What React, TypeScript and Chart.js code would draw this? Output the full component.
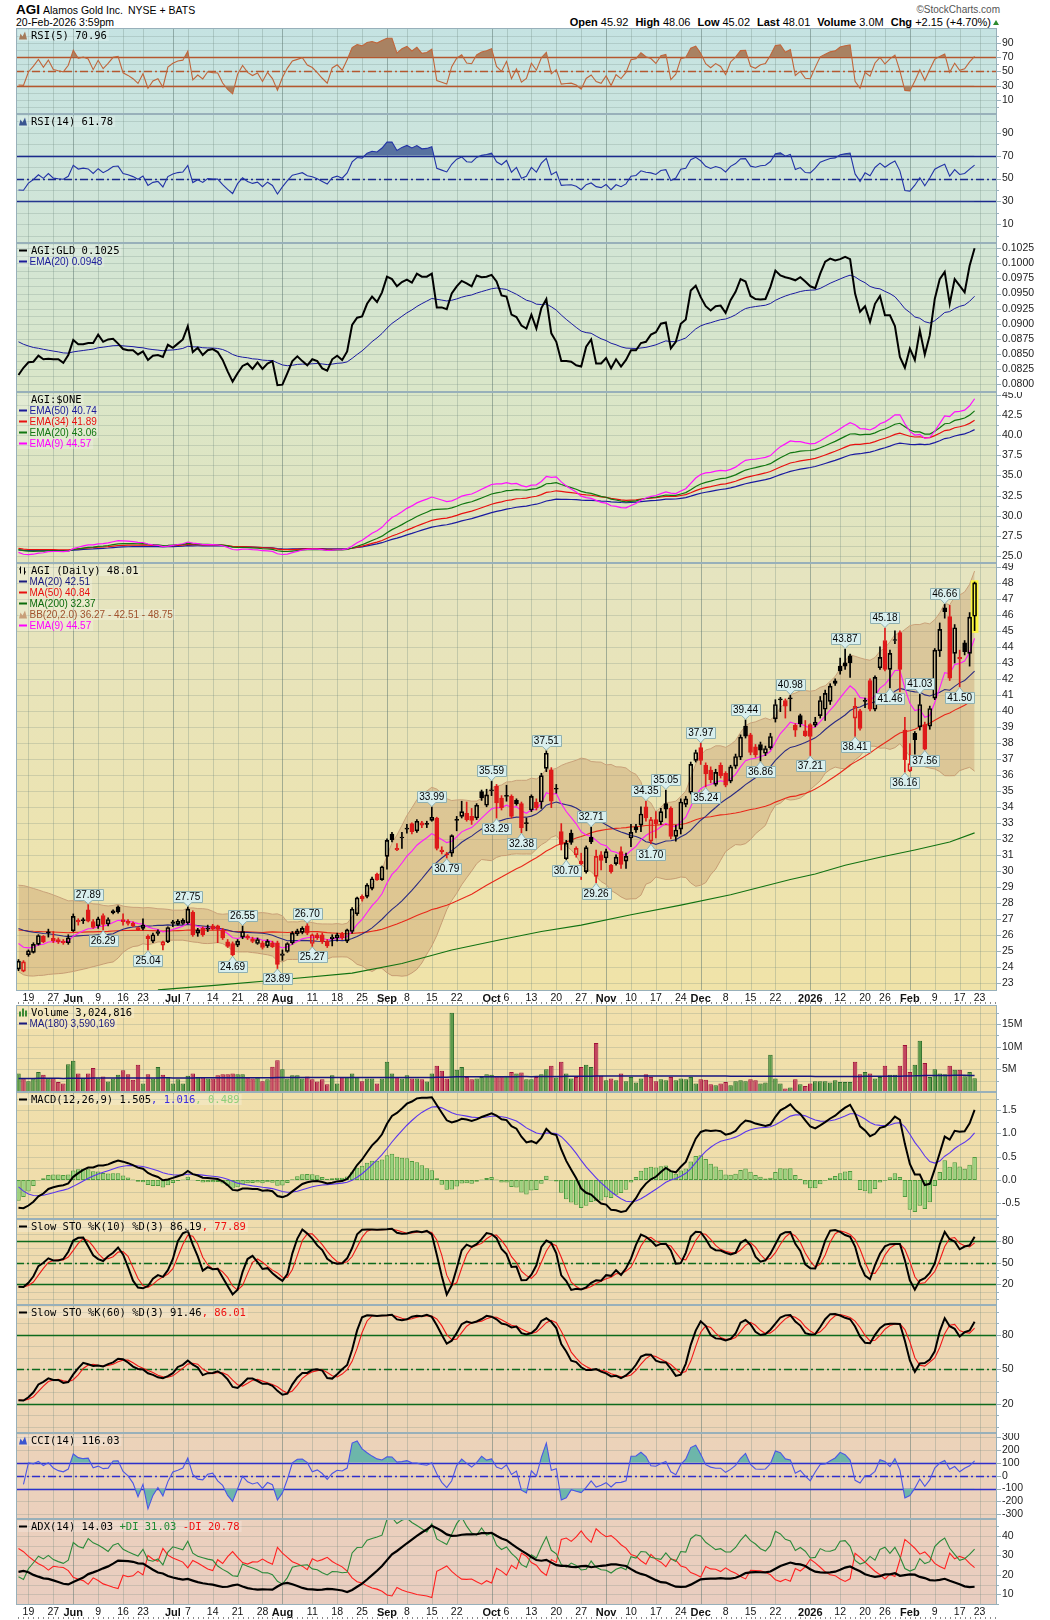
import React, { useEffect, useRef } from 'react';
import { Chart, registerables } from 'chart.js';

Chart.register(...registerables);

// ---------------- calendar ----------------
const FIRST_DAY = '2025-05-15';
const LAST_DAY = '2026-02-20';
const MARKET_HOLIDAYS = ['2025-05-26', '2025-06-19', '2025-07-04', '2025-09-01', '2025-11-27', '2025-12-25', '2026-01-01', '2026-01-19', '2026-02-16'];
const FUTURE_DAYS = ['2026-02-23', '2026-02-24', '2026-02-25', '2026-02-26'];

function tradingDays(from: string, to: string, holidays: string[]): string[] {
  const out: string[] = [];
  const d = new Date(from + 'T12:00:00Z');
  const end = new Date(to + 'T12:00:00Z');
  while (d <= end) {
    const wd = d.getUTCDay();
    const s = d.toISOString().slice(0, 10);
    if (wd !== 0 && wd !== 6 && holidays.indexOf(s) < 0) out.push(s);
    d.setUTCDate(d.getUTCDate() + 1);
  }
  return out;
}
const DAYS = tradingDays(FIRST_DAY, LAST_DAY, MARKET_HOLIDAYS);
const CATS = DAYS.concat(FUTURE_DAYS);
const N = CATS.length;

// [date, text, isMonth]
const AXIS_LABELS: [string, string, boolean][] = [
  ['2025-05-19', '19', false], ['2025-05-27', '27', false], ['2025-06-02', 'Jun', true], ['2025-06-09', '9', false],
  ['2025-06-16', '16', false], ['2025-06-23', '23', false], ['2025-07-01', 'Jul', true], ['2025-07-07', '7', false],
  ['2025-07-14', '14', false], ['2025-07-21', '21', false], ['2025-07-28', '28', false], ['2025-08-01', 'Aug', true],
  ['2025-08-11', '11', false], ['2025-08-18', '18', false], ['2025-08-25', '25', false], ['2025-09-02', 'Sep', true],
  ['2025-09-08', '8', false], ['2025-09-15', '15', false], ['2025-09-22', '22', false], ['2025-10-01', 'Oct', true],
  ['2025-10-06', '6', false], ['2025-10-13', '13', false], ['2025-10-20', '20', false], ['2025-10-27', '27', false],
  ['2025-11-03', 'Nov', true], ['2025-11-10', '10', false], ['2025-11-17', '17', false], ['2025-11-24', '24', false],
  ['2025-12-01', 'Dec', true], ['2025-12-08', '8', false], ['2025-12-15', '15', false], ['2025-12-22', '22', false],
  ['2026-01-02', '2026', true], ['2026-01-12', '12', false], ['2026-01-20', '20', false], ['2026-01-26', '26', false],
  ['2026-02-02', 'Feb', true], ['2026-02-09', '9', false], ['2026-02-17', '17', false], ['2026-02-23', '23', false],
];

// ---------------- daily prices ----------------
const OPEN = [
  23.85, 23.72, 24.75, 24.90, 25.40, 25.90, 26.15, 25.78, 25.70, 25.60,
  25.50, 26.25, 26.90, 26.88, 27.55, 26.82, 26.55, 27.20, 26.67, 27.50,
  27.75, 26.95, 26.85, 26.72, 26.45, 26.40, 25.90, 25.60, 26.20, 25.35,
  25.55, 26.80, 26.65, 26.70, 26.75, 27.40, 26.10, 26.40, 26.35, 26.55,
  26.55, 26.30, 25.55, 25.45, 25.35, 25.85, 25.92, 25.75, 25.45, 25.50,
  25.30, 25.50, 25.50, 24.70, 24.95, 25.50, 26.05, 26.15, 26.55, 25.45,
  26.00, 26.00, 25.60, 25.75, 25.80, 26.05, 25.60, 26.20, 27.30, 28.40,
  28.40, 28.90, 29.80, 29.45, 30.90, 32.30, 31.40, 32.05, 32.60, 32.95,
  32.50, 33.00, 32.90, 33.15, 33.30, 31.30, 31.05, 31.10, 33.15, 33.40,
  33.60, 33.40, 33.30, 34.95, 34.10, 35.00, 35.30, 34.55, 34.65, 34.65,
  34.40, 34.20, 32.95, 33.80, 34.30, 34.30, 36.40, 36.30, 35.15, 32.45,
  30.75, 32.35, 31.00, 30.60, 29.95, 32.10, 29.65, 31.00, 30.80, 30.35,
  30.45, 31.20, 30.60, 32.05, 32.75, 32.85, 34.00, 31.85, 33.20, 33.05,
  34.20, 33.90, 32.15, 32.60, 34.15, 34.90, 36.90, 37.70, 36.60, 36.30,
  35.40, 36.60, 36.10, 35.60, 36.55, 37.10, 39.05, 38.50, 37.75, 37.90,
  37.35, 37.70, 39.50, 40.75, 40.65, 40.75, 39.10, 39.70, 38.75, 39.15,
  39.10, 39.70, 40.10, 40.60, 41.88, 42.80, 43.00, 43.45, 39.55, 40.00,
  40.60, 41.90, 40.10, 42.70, 44.40, 42.60, 44.40, 44.90, 38.80, 36.25,
  38.60, 39.00, 39.15, 39.05, 40.80, 43.75, 46.45, 45.90, 43.60, 43.35,
  44.25, 43.60, 45.92,
];
const HIGH = [
  24.45, 24.38, 25.05, 25.50, 26.00, 25.95, 26.35, 26.20, 25.80, 25.70,
  26.00, 27.30, 27.00, 27.05, 27.89, 26.95, 27.10, 27.30, 27.05, 27.55,
  27.80, 27.30, 26.95, 26.80, 26.50, 27.00, 26.00, 26.10, 26.30, 25.60,
  26.50, 26.90, 26.95, 27.00, 27.75, 27.50, 26.40, 26.50, 26.60, 26.65,
  26.60, 26.40, 25.70, 25.55, 25.70, 26.55, 26.00, 25.85, 25.80, 25.60,
  25.70, 25.60, 25.60, 25.05, 25.50, 26.20, 26.35, 26.50, 26.70, 26.05,
  26.10, 26.10, 25.70, 26.00, 26.10, 26.15, 26.35, 27.70, 28.35, 28.50,
  29.20, 29.60, 29.85, 30.30, 32.00, 32.40, 31.70, 32.40, 32.90, 33.00,
  33.20, 33.10, 33.10, 33.99, 33.35, 31.50, 31.15, 32.25, 33.40, 34.35,
  34.30, 33.90, 34.20, 35.05, 35.10, 35.59, 35.40, 34.70, 35.35, 34.75,
  34.50, 34.30, 33.30, 34.75, 34.50, 36.10, 37.51, 36.45, 35.40, 32.95,
  31.90, 32.55, 31.50, 31.10, 31.55, 32.71, 31.30, 31.20, 31.35, 30.40,
  31.00, 31.50, 31.10, 32.90, 32.90, 34.00, 34.35, 33.35, 33.70, 33.90,
  35.05, 34.00, 32.85, 34.50, 34.65, 36.80, 37.55, 37.97, 36.75, 36.50,
  36.35, 36.75, 36.20, 36.60, 37.30, 38.50, 39.44, 38.60, 37.90, 38.05,
  37.80, 38.60, 40.70, 40.85, 40.75, 40.98, 39.20, 39.80, 39.40, 39.20,
  39.60, 40.90, 41.30, 41.70, 42.00, 43.30, 43.87, 43.55, 40.80, 40.10,
  40.80, 42.00, 42.20, 44.00, 45.18, 43.80, 45.00, 45.00, 39.60, 37.95,
  38.70, 41.03, 39.30, 40.30, 43.90, 45.50, 46.66, 46.60, 45.40, 43.80,
  44.40, 46.15, 48.06,
];
const LOW = [
  23.75, 23.68, 24.65, 24.85, 25.35, 25.50, 25.85, 25.50, 25.45, 25.40,
  25.40, 26.20, 26.60, 26.70, 26.80, 26.40, 26.40, 26.29, 26.55, 27.30,
  27.35, 26.60, 26.60, 26.50, 26.25, 26.30, 25.04, 25.50, 25.95, 25.05,
  25.50, 26.50, 26.60, 26.65, 26.70, 25.90, 25.90, 25.90, 26.20, 26.30,
  25.50, 25.70, 25.20, 24.69, 25.25, 25.75, 25.70, 25.50, 25.40, 25.10,
  25.20, 25.20, 23.89, 24.40, 24.90, 25.40, 25.95, 26.05, 26.00, 25.27,
  25.70, 25.45, 25.20, 25.30, 25.60, 25.70, 25.50, 26.10, 27.20, 28.10,
  28.30, 28.80, 29.40, 29.40, 30.10, 31.80, 31.25, 31.40, 32.35, 32.30,
  32.40, 32.70, 32.70, 33.10, 31.30, 31.05, 30.79, 30.90, 32.50, 33.30,
  33.10, 32.90, 33.20, 34.40, 34.00, 34.70, 33.29, 33.80, 34.35, 33.30,
  34.10, 32.38, 32.50, 33.70, 33.80, 33.90, 36.20, 33.95, 34.85, 31.30,
  30.70, 31.65, 30.85, 29.45, 29.85, 31.70, 29.26, 30.05, 30.50, 29.85,
  30.35, 30.15, 30.15, 31.50, 32.40, 32.45, 33.10, 31.70, 32.05, 32.90,
  33.30, 32.00, 31.85, 32.30, 34.00, 34.80, 36.80, 36.65, 35.24, 35.50,
  35.30, 35.80, 35.25, 35.50, 36.40, 36.95, 38.30, 37.25, 37.10, 36.86,
  37.20, 37.60, 39.30, 39.95, 39.55, 40.00, 38.40, 39.00, 38.40, 37.21,
  39.00, 39.55, 39.40, 40.40, 41.60, 42.30, 42.60, 42.10, 38.41, 38.80,
  40.20, 40.00, 40.00, 42.60, 42.50, 41.46, 44.20, 41.20, 36.16, 36.20,
  37.30, 38.80, 37.56, 38.85, 40.70, 43.40, 45.80, 41.90, 43.00, 41.50,
  43.50, 42.80, 45.02,
];
const CLOSE = [
  24.35, 24.30, 25.00, 25.40, 25.95, 25.55, 26.12, 25.62, 25.55, 25.50,
  25.80, 27.15, 26.80, 26.92, 26.85, 26.45, 27.00, 26.65, 26.95, 27.36,
  27.42, 26.82, 26.70, 26.55, 26.32, 26.60, 25.75, 26.00, 26.08, 25.55,
  26.45, 26.70, 26.85, 26.90, 27.60, 26.00, 26.30, 26.00, 26.40, 26.35,
  26.33, 25.80, 25.27, 24.75, 25.60, 26.20, 25.78, 25.58, 25.70, 25.20,
  25.60, 25.25, 24.15, 24.80, 25.45, 26.10, 26.25, 26.40, 26.10, 26.00,
  25.80, 25.55, 25.30, 25.85, 26.00, 25.82, 26.30, 27.60, 28.30, 28.25,
  29.10, 29.50, 29.45, 30.25, 31.90, 31.95, 31.30, 32.10, 32.65, 32.45,
  33.10, 32.85, 32.95, 33.35, 31.40, 31.20, 31.00, 32.20, 33.20, 33.70,
  33.20, 33.15, 34.10, 34.55, 34.75, 35.05, 34.25, 33.95, 34.70, 33.40,
  34.20, 32.70, 33.00, 34.65, 33.95, 35.95, 37.35, 34.35, 35.10, 31.65,
  31.73, 31.78, 31.40, 30.45, 31.45, 31.80, 30.90, 30.65, 31.20, 29.95,
  30.85, 30.40, 30.90, 32.40, 32.55, 33.55, 33.30, 33.20, 32.95, 33.70,
  33.85, 32.15, 32.55, 34.30, 34.50, 36.65, 37.40, 36.90, 36.05, 35.70,
  36.15, 35.95, 35.35, 36.50, 37.15, 38.35, 38.42, 37.40, 37.25, 37.55,
  37.65, 38.40, 40.40, 40.68, 40.30, 40.78, 38.80, 39.20, 38.45, 38.40,
  39.30, 40.65, 41.10, 41.55, 41.72, 42.50, 42.80, 43.00, 40.28, 38.90,
  40.65, 40.10, 42.10, 43.35, 42.60, 43.60, 44.45, 42.60, 36.95, 36.70,
  38.20, 40.40, 37.60, 40.15, 43.80, 45.10, 46.20, 42.05, 45.20, 43.25,
  43.70, 45.86, 48.01,
];
// daily volume, millions of shares
const VOLUME_M = [
  4.1, 3.0, 2.4, 3.0, 4.4, 3.8, 3.0, 3.0, 2.2, 1.9,
  6.1, 6.9, 4.1, 3.0, 4.1, 5.3, 3.0, 3.4, 2.3, 3.0,
  3.8, 4.8, 3.9, 2.7, 6.0, 1.9, 3.9, 3.0, 5.5, 3.8,
  3.3, 1.9, 2.8, 1.9, 3.6, 4.1, 3.3, 3.2, 3.0, 3.0,
  3.7, 3.9, 3.9, 4.1, 3.9, 3.9, 3.2, 3.0, 3.2, 2.4,
  2.8, 5.6, 7.0, 5.0, 3.0, 3.7, 3.7, 3.0, 3.4, 2.8,
  2.3, 2.8, 1.7, 3.7, 1.9, 3.3, 3.3, 4.1, 3.3, 2.4,
  3.0, 3.0, 1.9, 3.0, 6.7, 4.1, 3.3, 3.0, 3.7, 3.0,
  3.0, 2.8, 2.3, 4.1, 5.8, 4.7, 3.0, 17.5, 4.9, 5.5,
  3.3, 2.8, 3.0, 3.3, 3.9, 3.8, 3.4, 3.4, 3.6, 4.4,
  4.1, 4.3, 2.8, 2.8, 3.3, 3.9, 5.0, 5.8, 3.2, 6.7,
  4.1, 3.0, 3.3, 5.5, 6.0, 5.5, 10.8, 3.6, 2.6, 3.0,
  2.6, 4.1, 2.4, 3.3, 2.1, 3.0, 3.9, 3.3, 2.4, 2.8,
  2.6, 3.3, 2.6, 3.0, 2.8, 3.3, 1.9, 2.8, 2.7, 1.7,
  1.5, 1.9, 2.2, 1.5, 2.4, 2.6, 2.4, 2.8, 2.6, 1.9,
  2.1, 8.2, 3.0, 1.9, 0.8, 1.0, 2.8, 1.7, 1.3, 1.9,
  2.4, 2.4, 2.4, 2.1, 2.6, 2.2, 2.2, 2.2, 6.7, 3.9,
  4.4, 4.1, 3.0, 3.3, 5.8, 3.8, 3.8, 5.8, 10.4, 4.4,
  6.0, 11.3, 6.4, 3.3, 5.0, 4.1, 3.9, 5.8, 4.9, 4.9,
  3.5, 4.4, 3.02,
];
// AGI:GLD ratio
const AGI_GLD = [
  0.0815, 0.0827, 0.0836, 0.0837, 0.0847, 0.0841, 0.0842, 0.0841, 0.0841, 0.0835,
  0.0848, 0.0873, 0.0866, 0.0866, 0.0868, 0.0868, 0.0882, 0.0870, 0.0874, 0.0875,
  0.0867, 0.0858, 0.0856, 0.0856, 0.0849, 0.0854, 0.0840, 0.0847, 0.0848, 0.0845,
  0.0865, 0.0860, 0.0867, 0.0874, 0.0896, 0.0853, 0.0860, 0.0848, 0.0856, 0.0858,
  0.0853, 0.0840, 0.0821, 0.0804, 0.0818, 0.0830, 0.0834, 0.0825, 0.0836, 0.0825,
  0.0834, 0.0838, 0.0798, 0.0799, 0.0818, 0.0838, 0.0846, 0.0838, 0.0831, 0.0841,
  0.0838, 0.0826, 0.0822, 0.0841, 0.0847, 0.0840, 0.0854, 0.0898, 0.0910, 0.0912,
  0.0933, 0.0945, 0.0936, 0.0952, 0.0978, 0.0974, 0.0962, 0.0969, 0.0973, 0.0968,
  0.0983, 0.0978, 0.0978, 0.0983, 0.0927, 0.0927, 0.0924, 0.0950, 0.0962, 0.0971,
  0.0967, 0.0962, 0.0980, 0.0977, 0.0978, 0.0981, 0.0970, 0.0947, 0.0945, 0.0915,
  0.0911, 0.0897, 0.0892, 0.0915, 0.0892, 0.0926, 0.0941, 0.0884, 0.0870, 0.0838,
  0.0838, 0.0837, 0.0831, 0.0829, 0.0862, 0.0874, 0.0834, 0.0834, 0.0843, 0.0826,
  0.0841, 0.0829, 0.0840, 0.0856, 0.0856, 0.0868, 0.0870, 0.0882, 0.0886, 0.0900,
  0.0902, 0.0859, 0.0870, 0.0900, 0.0907, 0.0955, 0.0963, 0.0944, 0.0929, 0.0922,
  0.0929, 0.0930, 0.0918, 0.0939, 0.0953, 0.0974, 0.0970, 0.0946, 0.0941, 0.0940,
  0.0941, 0.0961, 0.0988, 0.0980, 0.0977, 0.0975, 0.0972, 0.0977, 0.0970, 0.0962,
  0.0959, 0.0983, 0.1003, 0.1008, 0.1005, 0.1007, 0.1011, 0.1007, 0.0950, 0.0920,
  0.0929, 0.0903, 0.0933, 0.0946, 0.0914, 0.0914, 0.0896, 0.0845, 0.0827, 0.0859,
  0.0840, 0.0889, 0.0849, 0.0881, 0.0941, 0.0974, 0.0986, 0.0933, 0.0974, 0.0963,
  0.0952, 0.0996, 0.1025,
];
// MA(200) (needs history older than the chart)
const MA200_READINGS: [string, number][] = [
  ['2025-06-26', 22.55], ['2025-07-15', 22.85], ['2025-07-31', 23.17], ['2025-08-21', 23.6], ['2025-09-05', 24.2],
  ['2025-09-19', 25.05], ['2025-10-03', 25.7], ['2025-10-15', 26.2], ['2025-10-27', 26.6], ['2025-11-10', 27.25],
  ['2025-11-24', 27.85], ['2025-12-09', 28.5], ['2025-12-26', 29.45], ['2026-01-05', 29.8], ['2026-01-13', 30.35],
  ['2026-01-23', 30.85], ['2026-02-03', 31.3], ['2026-02-12', 31.8], ['2026-02-20', 32.37],
];
// swing high / low call-outs: [date, 'H' | 'L']
const CALLOUTS: [string, string][] = [
  ['2025-06-05', 'H'], ['2025-06-10', 'L'], ['2025-06-24', 'L'], ['2025-07-07', 'H'], ['2025-07-18', 'L'], ['2025-07-22', 'H'],
  ['2025-07-31', 'L'], ['2025-08-08', 'H'], ['2025-08-11', 'L'], ['2025-09-15', 'H'], ['2025-09-18', 'L'], ['2025-10-01', 'H'],
  ['2025-10-02', 'L'], ['2025-10-09', 'L'], ['2025-10-16', 'H'], ['2025-10-22', 'L'], ['2025-10-29', 'H'], ['2025-10-30', 'L'],
  ['2025-11-13', 'H'], ['2025-11-14', 'L'], ['2025-11-19', 'H'], ['2025-12-01', 'H'], ['2025-12-02', 'L'], ['2025-12-12', 'H'],
  ['2025-12-17', 'L'], ['2025-12-26', 'H'], ['2026-01-02', 'L'], ['2026-01-13', 'H'], ['2026-01-15', 'L'], ['2026-01-26', 'H'],
  ['2026-01-27', 'L'], ['2026-01-30', 'L'], ['2026-02-04', 'H'], ['2026-02-05', 'L'], ['2026-02-11', 'H'], ['2026-02-17', 'L'],
];
const QUOTE: [string, string][] = [['Open', '45.92'], ['High', '48.06'], ['Low', '45.02'], ['Last', '48.01'], ['Volume', '3.0M'], ['Chg', '+2.15 (+4.70%)']];

// starting states of the indicators at the first visible bar
const SEED_EMA9 = 25.45, SEED_EMA20 = 25.8, SEED_EMA34 = 25.95, SEED_EMA50 = 25.75;
const SEED_MA20 = 26.5, SEED_MA50 = 26.34, SEED_BB_STD = 1.3;
const SEED_RSI5 = [0.18, 0.4], SEED_RSI14 = [0.2, 0.3];
const SEED_EMA12 = 24.95, SEED_EMA26 = 25.55, SEED_SIGNAL = -0.15;
const SEED_GLD_EMA20 = 0.087;
const STO10_PRIOR = [27.6, 23.7], STO60_PRIOR = [30.5, 22.5];
const ADX_SEED = [0.7, 19, 33.5, 21.5];
const VOL_MA_SEED = 3.0;

// ---------------- indicator maths ----------------
function emaSeries(src: number[], n: number, seed: number) {
  const k = 2 / (n + 1);
  let e = seed;
  return src.map((v, i) => (i === 0 ? e : (e = v * k + e * (1 - k))));
}
function smaSeeded(src: number[], n: number, seed: number) {
  return src.map((_, i) => {
    const a = Math.max(0, i - n + 1);
    let s = 0;
    for (let j = a; j <= i; j++) s += src[j];
    return (s + (n - (i - a + 1)) * seed) / n;
  });
}
function bollinger(src: number[], n: number, k: number, seedMean: number, seedStd: number) {
  const mid = smaSeeded(src, n, seedMean);
  const up: number[] = [], lo: number[] = [];
  src.forEach((_, i) => {
    const a = Math.max(0, i - n + 1);
    const cnt = i - a + 1;
    let ss = (n - cnt) * (seedStd * seedStd + (seedMean - mid[i]) ** 2);
    for (let j = a; j <= i; j++) ss += (src[j] - mid[i]) ** 2;
    const sd = Math.sqrt(ss / n);
    up.push(mid[i] + k * sd);
    lo.push(mid[i] - k * sd);
  });
  return { mid, up, lo };
}
function rsiSeries(c: number[], n: number, seed: number[]) {
  let g = seed[0], l = seed[1];
  return c.map((v, i) => {
    if (i > 0) {
      const d = v - c[i - 1];
      g = (g * (n - 1) + Math.max(d, 0)) / n;
      l = (l * (n - 1) + Math.max(-d, 0)) / n;
    }
    return l === 0 ? 100 : 100 - 100 / (1 + g / l);
  });
}
function avg3(src: number[]) {
  return src.map((_, i) => {
    const a = Math.max(0, i - 2);
    let s = 0;
    for (let j = a; j <= i; j++) s += src[j];
    return s / (i - a + 1);
  });
}
function slowSto(n: number, prior: number[]) {
  const fast = CLOSE.map((c, i) => {
    const a = Math.max(0, i - n + 1);
    let hh = -Infinity, ll = Infinity;
    for (let j = a; j <= i; j++) { hh = Math.max(hh, HIGH[j]); ll = Math.min(ll, LOW[j]); }
    if (i < n - 1) { hh = Math.max(hh, prior[0]); ll = Math.min(ll, prior[1]); }
    return hh === ll ? 50 : (100 * (c - ll)) / (hh - ll);
  });
  const k = avg3(fast);
  return { k, d: avg3(k) };
}
function cciSeries(n: number) {
  const tp = CLOSE.map((c, i) => (HIGH[i] + LOW[i] + c) / 3);
  return tp.map((v, i) => {
    const a = Math.max(0, i - n + 1);
    const w = tp.slice(a, i + 1);
    if (w.length < 2) return null;
    const m = w.reduce((s, x) => s + x, 0) / w.length;
    const md = w.reduce((s, x) => s + Math.abs(x - m), 0) / w.length;
    return md === 0 ? 0 : (v - m) / (0.015 * md);
  });
}
function adxSeries(n: number, seed: number[]) {
  let tr = seed[0], p = (seed[1] / 100) * seed[0], m = (seed[2] / 100) * seed[0], ax = seed[3];
  const PDI = [seed[1]], MDI = [seed[2]], ADX = [seed[3]];
  for (let i = 1; i < CLOSE.length; i++) {
    const t = Math.max(HIGH[i] - LOW[i], Math.abs(HIGH[i] - CLOSE[i - 1]), Math.abs(LOW[i] - CLOSE[i - 1]));
    const upMove = HIGH[i] - HIGH[i - 1], dnMove = LOW[i - 1] - LOW[i];
    const pdm = upMove > dnMove && upMove > 0 ? upMove : 0;
    const mdm = dnMove > upMove && dnMove > 0 ? dnMove : 0;
    tr = (tr * (n - 1) + t) / n;
    p = (p * (n - 1) + pdm) / n;
    m = (m * (n - 1) + mdm) / n;
    const pdi = (100 * p) / tr, mdi = (100 * m) / tr;
    const dx = pdi + mdi === 0 ? 0 : (100 * Math.abs(pdi - mdi)) / (pdi + mdi);
    ax = (ax * (n - 1) + dx) / n;
    PDI.push(pdi); MDI.push(mdi); ADX.push(ax);
  }
  return { PDI, MDI, ADX };
}

const padN = (a: (number | null)[]) => a.concat(Array(N - a.length).fill(null));
const range = (a: number, b: number, s: number) => {
  const r: number[] = [];
  for (let v = a; v <= b + 1e-9; v += s) r.push(+v.toFixed(6));
  return r;
};

const EMA9 = emaSeries(CLOSE, 9, SEED_EMA9);
const EMA20 = emaSeries(CLOSE, 20, SEED_EMA20);
const EMA34 = emaSeries(CLOSE, 34, SEED_EMA34);
const EMA50 = emaSeries(CLOSE, 50, SEED_EMA50);
const MA20 = smaSeeded(CLOSE, 20, SEED_MA20);
const MA50 = smaSeeded(CLOSE, 50, SEED_MA50);
const BB = bollinger(CLOSE, 20, 2, SEED_MA20, SEED_BB_STD);
const RSI5 = rsiSeries(CLOSE, 5, SEED_RSI5);
const RSI14 = rsiSeries(CLOSE, 14, SEED_RSI14);
const GLD_EMA20 = emaSeries(AGI_GLD, 20, SEED_GLD_EMA20);
const E12 = emaSeries(CLOSE, 12, SEED_EMA12);
const E26 = emaSeries(CLOSE, 26, SEED_EMA26);
const MACD = E12.map((v, i) => v - E26[i]);
const SIGNAL = emaSeries(MACD, 9, SEED_SIGNAL);
const HIST = MACD.map((v, i) => v - SIGNAL[i]);
const STO10 = slowSto(10, STO10_PRIOR);
const STO60 = slowSto(60, STO60_PRIOR);
const CCI14 = cciSeries(14);
const DMI = adxSeries(14, ADX_SEED);
const VOL_MA180 = smaSeeded(VOLUME_M, 180, VOL_MA_SEED);
const MA200 = (() => {
  const a: (number | null)[] = Array(N).fill(null);
  MA200_READINGS.forEach(([d, v]) => { a[CATS.indexOf(d)] = v; });
  return a;
})();

const RED = '#de1a1a';
const upDay = CLOSE.map((c, i) => (i === 0 ? c >= OPEN[0] : c >= CLOSE[i - 1]));
const candleCol = upDay.map((u) => (u ? '#000000' : RED));

// ---------------- drawing helpers ----------------
const SANS = '10px "Liberation Sans", Arial, sans-serif';
const MONO = '10.5px "DejaVu Sans Mono", monospace';

function drawIcon(ctx: any, icon: string, color: string, y: number) {
  ctx.save();
  ctx.fillStyle = color;
  ctx.strokeStyle = color;
  if (icon === 'dash') {
    ctx.fillRect(19, y - 1, 8, 2);
  } else if (icon === 'mountain') {
    ctx.beginPath();
    ctx.moveTo(19, y + 4); ctx.lineTo(20.5, y - 2); ctx.lineTo(22.5, y + 1); ctx.lineTo(25, y - 4); ctx.lineTo(27, y + 4);
    ctx.closePath(); ctx.fill();
  } else if (icon === 'candle') {
    ctx.lineWidth = 1;
    ctx.beginPath();
    ctx.moveTo(20.5, y - 4); ctx.lineTo(20.5, y + 3); ctx.moveTo(19, y - 1.5); ctx.lineTo(20.5, y - 1.5);
    ctx.moveTo(24.5, y - 3); ctx.lineTo(24.5, y + 4); ctx.moveTo(24.5, y + 1.5); ctx.lineTo(26, y + 1.5);
    ctx.stroke();
  } else if (icon === 'bars') {
    ctx.fillRect(19, y - 1, 2, 5); ctx.fillRect(22, y - 4, 2, 8); ctx.fillRect(25, y - 2, 2, 6);
  }
  ctx.restore();
}

function drawCallouts(chart: any) {
  const { ctx, scales } = chart;
  const x = scales.x, y = scales.y;
  ctx.save();
  ctx.font = SANS;
  ctx.lineWidth = 1;
  CALLOUTS.forEach(([d, kind]) => {
    const idx = CATS.indexOf(d);
    if (idx < 0) return;
    const v = kind === 'H' ? HIGH[idx] : LOW[idx];
    const px = x.getPixelForValue(idx);
    const py = y.getPixelForValue(v);
    const txt = v.toFixed(2);
    const w = Math.ceil(ctx.measureText(txt).width) + 3;
    const h = 11;
    const bx = Math.round(px - w / 2) + 0.5;
    ctx.beginPath();
    let by;
    if (kind === 'H') {
      by = Math.round(py - 5 - h) + 0.5;
      ctx.moveTo(bx, by); ctx.lineTo(bx + w, by); ctx.lineTo(bx + w, by + h);
      ctx.lineTo(px + 4, by + h); ctx.lineTo(px, py - 0.5); ctx.lineTo(px - 4, by + h);
      ctx.lineTo(bx, by + h); ctx.closePath();
    } else {
      by = Math.round(py + 5) + 0.5;
      ctx.moveTo(bx, by); ctx.lineTo(px - 4, by); ctx.lineTo(px, py + 0.5); ctx.lineTo(px + 4, by);
      ctx.lineTo(bx + w, by); ctx.lineTo(bx + w, by + h); ctx.lineTo(bx, by + h); ctx.closePath();
    }
    ctx.fillStyle = '#d9efee';
    ctx.strokeStyle = '#8fb0b0';
    ctx.fill();
    ctx.stroke();
    ctx.fillStyle = '#000';
    ctx.textAlign = 'center';
    ctx.textBaseline = 'middle';
    ctx.fillText(txt, px, by + h / 2 + 0.5);
  });
  ctx.restore();
}

function decor(p: any) {
  return {
    id: 'decor',
    beforeDraw(chart: any) {
      const { ctx, chartArea: a } = chart;
      ctx.save();
      const g = ctx.createLinearGradient(0, a.top, 0, a.bottom);
      g.addColorStop(0, p.bg[0]);
      g.addColorStop(1, p.bg[1]);
      ctx.fillStyle = g;
      ctx.fillRect(a.left, a.top, a.right - a.left, a.bottom - a.top);
      ctx.restore();
    },
    beforeDatasetsDraw(chart: any) {
      const { ctx, chartArea: a, scales } = chart;
      const x = scales.x, y = scales.y;
      ctx.save();
      ctx.lineWidth = 1;
      ctx.strokeStyle = 'rgba(110,135,125,0.24)';
      p.grid.forEach((v: number) => {
        const py = Math.round(y.getPixelForValue(v)) + 0.5;
        if (py <= a.top + 1 || py >= a.bottom - 1) return;
        ctx.beginPath(); ctx.moveTo(a.left, py); ctx.lineTo(a.right, py); ctx.stroke();
      });
      AXIS_LABELS.forEach(([d, , month]) => {
        const idx = CATS.indexOf(d);
        if (idx < 0) return;
        const px = Math.round(x.getPixelForValue(idx)) + 0.5;
        ctx.strokeStyle = month ? 'rgba(90,115,110,0.5)' : 'rgba(110,135,125,0.3)';
        ctx.beginPath(); ctx.moveTo(px, a.top); ctx.lineTo(px, a.bottom); ctx.stroke();
      });
      (p.refs || []).forEach((r: any) => {
        const py = Math.round(y.getPixelForValue(r.v)) + 0.5;
        ctx.strokeStyle = r.c;
        ctx.lineWidth = 1.3;
        ctx.setLineDash(r.dash ? [8, 3, 2, 3] : []);
        ctx.beginPath(); ctx.moveTo(a.left, py); ctx.lineTo(a.right, py); ctx.stroke();
      });
      ctx.restore();
    },
    afterDatasetsDraw(chart: any) {
      if (p.callouts) drawCallouts(chart);
    },
    afterDraw(chart: any) {
      const { ctx, chartArea: a, scales } = chart;
      const x = scales.x, y = scales.y;
      ctx.save();
      // frame
      ctx.strokeStyle = '#98b0ba';
      ctx.lineWidth = 1;
      ctx.strokeRect(a.left + 0.5, a.top + 0.5, a.right - a.left - 1, a.bottom - a.top - 1);
      // right axis tick marks
      p.grid.forEach((v: number) => {
        const py = Math.round(y.getPixelForValue(v)) + 0.5;
        if (py < a.top || py > a.bottom) return;
        const len = p.ticks.indexOf(v) >= 0 ? 4 : 2;
        ctx.beginPath(); ctx.moveTo(a.right, py); ctx.lineTo(a.right + len, py); ctx.stroke();
      });
      // legend
      p.legend.forEach((ln: any, i: number) => {
        const ly = a.top + 7.5 + i * 11;
        const startX = ln.segs[0].mono ? 31 : 29.5;
        let total = 0;
        ln.segs.forEach((s: any) => { ctx.font = s.mono ? MONO : SANS; total += ctx.measureText(s.t).width; });
        ctx.fillStyle = 'rgba(255,255,255,0.22)';
        ctx.fillRect(18, ly - 5.5, startX - 18 + total + 2, 11);
        if (ln.icon) drawIcon(ctx, ln.icon, ln.color, ly);
        let tx = startX;
        ln.segs.forEach((s: any) => {
          ctx.font = s.mono ? MONO : SANS;
          ctx.fillStyle = s.c;
          ctx.textAlign = 'left';
          ctx.textBaseline = 'middle';
          ctx.fillText(s.t, tx, ly + 0.5);
          tx += ctx.measureText(s.t).width;
        });
      });
      // date axis
      if (p.row) {
        ctx.fillStyle = '#8a8a8a';
        for (let i = 0; i < N; i++) {
          const px = Math.round(x.getPixelForValue(i));
          ctx.fillRect(px, a.bottom + p.row - 3, 1, 2);
        }
        ctx.fillStyle = '#111';
        ctx.textAlign = 'center';
        ctx.textBaseline = 'middle';
        AXIS_LABELS.forEach(([d, t, month]) => {
          const idx = CATS.indexOf(d);
          if (idx < 0) return;
          ctx.font = (month ? 'bold 11px' : '10.5px') + ' "Liberation Sans", Arial, sans-serif';
          ctx.fillText(t, x.getPixelForValue(idx), a.bottom + 7.5);
        });
      }
      ctx.restore();
    },
  };
}

// ---------------- dataset builders ----------------
const line = (data: any[], color: string, width = 1, extra: any = {}) => ({
  type: 'line', data, borderColor: color, borderWidth: width, pointRadius: 0, tension: 0, fill: false, ...extra,
});
const floatBar = (data: any[], thick: number, bg: any, border: any, extra: any = {}) => ({
  type: 'bar', data, barThickness: thick, grouped: false, backgroundColor: bg, borderColor: border, borderWidth: 0, borderSkipped: false, ...extra,
});
const seg = (t: string, c: string, mono = false) => ({ t, c, mono });

const GREEN_LINE = '#0d6a1d';
const PANELS: any[] = [
  {
    key: 'rsi5', top: 28, h: 86, row: 0, min: -9.5, max: 110.5, ticks: [10, 30, 50, 70, 90], fmt: (v: number) => String(v),
    grid: range(0, 100, 10), bg: ['#c5e3e2', '#cae4de'],
    refs: [{ v: 70, c: '#b5572f' }, { v: 30, c: '#b5572f' }, { v: 50, c: '#b5572f', dash: true }],
    legend: [{ icon: 'mountain', color: '#a57a5a', segs: [seg('RSI(5) 70.96', '#000', true)] }],
    datasets: [
      line(padN(RSI5), '#c0653a', 1.1, { fill: { target: { value: 70 }, above: '#a98262', below: 'rgba(0,0,0,0)' } }),
      line(padN(RSI5), 'rgba(0,0,0,0)', 0, { fill: { target: { value: 30 }, above: 'rgba(0,0,0,0)', below: '#a98262' } }),
    ],
  },
  {
    key: 'rsi14', top: 114, h: 129, row: 0, min: -6.4, max: 106.4, ticks: [10, 30, 50, 70, 90], fmt: (v: number) => String(v),
    grid: range(0, 100, 10), bg: ['#cae4de', '#d2e5d5'],
    refs: [{ v: 70, c: '#1b2a8c' }, { v: 30, c: '#1b2a8c' }, { v: 50, c: '#1b2a8c', dash: true }],
    legend: [{ icon: 'mountain', color: '#3a5590', segs: [seg('RSI(14) 61.78', '#000', true)] }],
    datasets: [
      line(padN(RSI14), '#2233a6', 1.1, { fill: { target: { value: 70 }, above: '#5872a0', below: 'rgba(0,0,0,0)' } }),
      line(padN(RSI14), 'rgba(0,0,0,0)', 0, { fill: { target: { value: 30 }, above: 'rgba(0,0,0,0)', below: '#5872a0' } }),
    ],
  },
  {
    key: 'gld', top: 243, h: 149, row: 0, min: 0.07868, max: 0.10338, ticks: range(0.08, 0.1025, 0.0025), fmt: (v: number) => v.toFixed(4),
    grid: range(0.08, 0.1025, 0.00125), bg: ['#d2e5d5', '#dae6c8'],
    legend: [
      { icon: 'dash', color: '#000', segs: [seg('AGI:GLD 0.1025', '#000', true)] },
      { icon: 'dash', color: '#1a1a9a', segs: [seg('EMA(20) 0.0948', '#1a1a9a')] },
    ],
    datasets: [line(padN(AGI_GLD), '#000', 2), line(padN(GLD_EMA20), '#1a1aa0', 1)],
  },
  {
    key: 'one', top: 392, h: 171, row: 0, min: 24.13, max: 45.37, ticks: range(25, 45, 2.5), fmt: (v: number) => v.toFixed(1),
    grid: range(25, 45, 1.25), bg: ['#dae6c8', '#e3e4bd'],
    legend: [
      { icon: null, color: '', segs: [seg('AGI:$ONE', '#000', true)] },
      { icon: 'dash', color: '#1a1a9a', segs: [seg('EMA(50) 40.74', '#1a1a9a')] },
      { icon: 'dash', color: '#e81010', segs: [seg('EMA(34) 41.89', '#e81010')] },
      { icon: 'dash', color: '#117711', segs: [seg('EMA(20) 43.06', '#117711')] },
      { icon: 'dash', color: '#ff00ff', segs: [seg('EMA(9) 44.57', '#ff00ff')] },
    ],
    datasets: [
      line(padN(EMA9), '#ff10ff', 1.2),
      line(padN(EMA20), '#117711', 1.2),
      line(padN(EMA34), '#e81010', 1.2),
      line(padN(EMA50), '#1a1aa0', 1.2),
    ],
  },
  {
    key: 'price', top: 563, h: 428, row: 14, min: 22.48, max: 49.25, ticks: range(23, 49, 1), fmt: (v: number) => String(v),
    grid: range(23, 49, 1), bg: ['#e5e4c0', '#f0e3a8'], callouts: true,
    legend: [
      { icon: 'candle', color: '#000', segs: [seg('AGI (Daily) 48.01', '#000', true)] },
      { icon: 'dash', color: '#1a1a80', segs: [seg('MA(20) 42.51', '#1a1a80')] },
      { icon: 'dash', color: '#e81010', segs: [seg('MA(50) 40.84', '#e81010')] },
      { icon: 'dash', color: '#0b6b0b', segs: [seg('MA(200) 32.37', '#0b6b0b')] },
      { icon: 'mountain', color: '#c8a07a', segs: [seg('BB(20,2.0) 36.27 - 42.51 - 48.75', '#a0522d')] },
      { icon: 'dash', color: '#ff00ff', segs: [seg('EMA(9) 44.57', '#ff00ff')] },
    ],
    datasets: [
      floatBar(DAYS.map((_, i) => [OPEN[i], CLOSE[i]]), 4,
        DAYS.map((_, i) => (CLOSE[i] >= OPEN[i] ? 'rgba(0,0,0,0)' : candleCol[i])), candleCol,
        { borderWidth: 1, minBarLength: 1 }),
      floatBar(DAYS.map((_, i) => [Math.max(OPEN[i], CLOSE[i]), HIGH[i]]), 1, candleCol, candleCol),
      floatBar(DAYS.map((_, i) => [LOW[i], Math.min(OPEN[i], CLOSE[i])]), 1, candleCol, candleCol),
      floatBar(DAYS.map((_, i) => (i === DAYS.length - 1 ? [LOW[i] - 0.12, HIGH[i] + 0.09] : null)), 7, '#fbf542', '#fbf542'),
      line(padN(EMA9), '#ff1aff', 1.1),
      line(padN(MA20), '#2a2a82', 1.1),
      line(padN(MA50), '#e8281a', 1.1),
      line(MA200, '#127212', 1.1, { spanGaps: true }),
      line(padN(BB.up), '#c9a27a', 1, { fill: '+1', backgroundColor: 'rgba(190,140,90,0.33)' }),
      line(padN(BB.lo), '#c9a27a', 1),
    ],
  },
  {
    key: 'vol', top: 1005, h: 87, row: 0, min: 0, max: 19.2, ticks: [5, 10, 15], fmt: (v: number) => v + 'M',
    grid: range(2.5, 17.5, 2.5), bg: ['#f1e0ac', '#f0dfab'],
    legend: [
      { icon: 'bars', color: '#3c8a34', segs: [seg('Volume 3,024,816', '#000', true)] },
      { icon: 'dash', color: '#1a1a80', segs: [seg('MA(180) 3,590,169', '#1a1a80')] },
    ],
    datasets: [
      line(padN(VOL_MA180), '#15157f', 1.5),
      {
        type: 'bar', data: padN(VOLUME_M), barPercentage: 1, categoryPercentage: 0.9, borderWidth: 1, borderSkipped: false,
        backgroundColor: upDay.map((u) => (u ? '#5a9a4a' : '#c2455f')),
        borderColor: upDay.map((u) => (u ? '#2c6c2a' : '#a0103a')),
      },
    ],
  },
  {
    key: 'macd', top: 1092, h: 127, row: 0, min: -0.84, max: 1.89, ticks: [-0.5, 0, 0.5, 1, 1.5], fmt: (v: number) => v.toFixed(1),
    grid: range(-0.75, 1.75, 0.25), bg: ['#f0dfab', '#efdcab'],
    legend: [{ icon: 'dash', color: '#000', segs: [seg('MACD(12,26,9) 1.505', '#000', true), seg(', 1.016', '#3a2ae0', true), seg(', 0.489', '#8fcf7a', true)] }],
    datasets: [
      line(padN(MACD), '#000', 2),
      line(padN(SIGNAL), '#5a35ee', 1.1),
      { type: 'bar', data: padN(HIST), barPercentage: 1, categoryPercentage: 0.9, borderWidth: 1, borderSkipped: false, backgroundColor: '#9ad27f', borderColor: '#4e9a3e' },
    ],
  },
  {
    key: 'sto10', top: 1219, h: 86, row: 0, min: -8.7, max: 110.5, ticks: [20, 50, 80], fmt: (v: number) => String(v),
    grid: range(0, 100, 10), bg: ['#efdcad', '#eed9b1'],
    refs: [{ v: 80, c: GREEN_LINE }, { v: 20, c: GREEN_LINE }, { v: 50, c: GREEN_LINE, dash: true }],
    legend: [{ icon: 'dash', color: '#000', segs: [seg('Slow STO %K(10) %D(3) 86.19', '#000', true), seg(', 77.89', '#f01010', true)] }],
    datasets: [line(padN(STO10.k), '#000', 2), line(padN(STO10.d), '#f01818', 1.1)],
  },
  {
    key: 'sto60', top: 1305, h: 128, row: 0, min: -5.5, max: 106.1, ticks: [20, 50, 80], fmt: (v: number) => String(v),
    grid: range(0, 100, 10), bg: ['#eed9b1', '#ecd4b7'],
    refs: [{ v: 80, c: GREEN_LINE }, { v: 20, c: GREEN_LINE }, { v: 50, c: GREEN_LINE, dash: true }],
    legend: [{ icon: 'dash', color: '#000', segs: [seg('Slow STO %K(60) %D(3) 91.46', '#000', true), seg(', 86.01', '#f01010', true)] }],
    datasets: [line(padN(STO60.k), '#000', 2), line(padN(STO60.d), '#f01818', 1.1)],
  },
  {
    key: 'cci', top: 1433, h: 86, row: 0, min: -336, max: 331, ticks: range(-300, 300, 100), fmt: (v: number) => String(v),
    grid: range(-300, 300, 100), bg: ['#ecd3b9', '#ebd0bd'],
    refs: [{ v: 100, c: '#2f2fcc' }, { v: -100, c: '#2f2fcc' }, { v: 0, c: '#2f2fcc', dash: true }],
    legend: [{ icon: 'mountain', color: '#3a55d0', segs: [seg('CCI(14) 116.03', '#000', true)] }],
    datasets: [
      line(padN(CCI14), '#4a55e6', 1.1, { fill: { target: { value: 100 }, above: '#6db6aa', below: 'rgba(0,0,0,0)' } }),
      line(padN(CCI14), 'rgba(0,0,0,0)', 0, { fill: { target: { value: -100 }, above: 'rgba(0,0,0,0)', below: '#6db6aa' } }),
    ],
  },
  {
    key: 'adx', top: 1519, h: 86, row: 15, min: 4.5, max: 48.6, ticks: [10, 20, 30, 40], fmt: (v: number) => String(v),
    grid: range(5, 45, 5), bg: ['#ebd0bd', '#e9cdc0'],
    legend: [{ icon: 'dash', color: '#000', segs: [seg('ADX(14) 14.03', '#000', true), seg(' +DI 31.03', '#1f8a33', true), seg(' -DI 20.78', '#f01010', true)] }],
    datasets: [
      line(padN(DMI.ADX), '#000', 2.2),
      line(padN(DMI.PDI), '#2a8a3a', 1.1),
      line(padN(DMI.MDI), '#ff2020', 1.1),
    ],
  },
];

function Panel({ p }: { p: any }) {
  const ref = useRef<HTMLCanvasElement>(null);
  useEffect(() => {
    const canvas = ref.current;
    if (!canvas) return;
    const chart = new Chart(canvas, {
      type: 'bar',
      data: { labels: CATS, datasets: p.datasets },
      options: {
        animation: false,
        responsive: false,
        maintainAspectRatio: false,
        events: [],
        layout: { padding: { left: 16, right: 0, top: 0, bottom: p.row }, autoPadding: false },
        plugins: { legend: { display: false }, tooltip: { enabled: false } },
        scales: {
          x: { type: 'category', display: false, offset: true },
          y: {
            type: 'linear',
            position: 'right',
            min: p.min,
            max: p.max,
            afterFit: (s: any) => {
              s.width = 53;
              s.paddingTop = 0;
              s.paddingBottom = 0;
              s.paddingLeft = 0;
              s.paddingRight = 0;
            },
            afterBuildTicks: (s: any) => { s.ticks = p.ticks.map((v: number) => ({ value: v })); },
            ticks: {
              autoSkip: false,
              padding: 5,
              color: '#222',
              font: { family: '"Liberation Sans", Arial, sans-serif', size: 10.5 },
              callback: (v: any) => p.fmt(Number(v)),
            },
            grid: { display: false, drawTicks: false },
            border: { display: false },
          },
        },
      } as any,
      plugins: [decor(p)],
    } as any);
    return () => chart.destroy();
  }, [p]);
  return (
    <canvas
      ref={ref}
      width={1050}
      height={p.h + p.row}
      style={{ position: 'absolute', left: 0, top: p.top, width: 1050, height: p.h + p.row, display: 'block' }}
    />
  );
}

function Header() {
  const base: any = { position: 'absolute', fontFamily: '"Liberation Sans", Arial, sans-serif', color: '#000', whiteSpace: 'nowrap' };
  return (
    <>
      <div style={{ ...base, left: 16, top: 2.5, fontSize: 13.5, fontWeight: 'bold', lineHeight: '14px' }}>AGI</div>
      <div style={{ ...base, left: 43, top: 3.7, fontSize: 10.5, lineHeight: '12px' }}>Alamos Gold Inc.</div>
      <div style={{ ...base, left: 128, top: 3.7, fontSize: 10.5, lineHeight: '12px' }}>NYSE + BATS</div>
      <div style={{ ...base, left: 16, top: 16.4, fontSize: 10.5, lineHeight: '12px' }}>20-Feb-2026 3:59pm</div>
      <div style={{ ...base, right: 50, top: 3.5, fontSize: 10, lineHeight: '12px', color: '#555' }}>©StockCharts.com</div>
      <div style={{ ...base, right: 59, top: 16.2, fontSize: 11, lineHeight: '12px' }}>
        {QUOTE.map(([k, v], i) => (
          <span key={k} style={{ marginLeft: i === 0 ? 0 : 7 }}>
            <b>{k}</b> {v}
          </span>
        ))}
      </div>
      <div
        style={{
          position: 'absolute', left: 993, top: 20, width: 0, height: 0,
          borderLeft: '3.5px solid transparent', borderRight: '3.5px solid transparent', borderBottom: '5px solid #2e8b2e',
        }}
      />
    </>
  );
}

export default function App() {
  return (
    <div style={{ position: 'absolute', left: 0, top: 0, width: 1050, height: 1620, background: '#fff', overflow: 'hidden' }}>
      <Header />
      {PANELS.map((p) => (
        <Panel key={p.key} p={p} />
      ))}
    </div>
  );
}
